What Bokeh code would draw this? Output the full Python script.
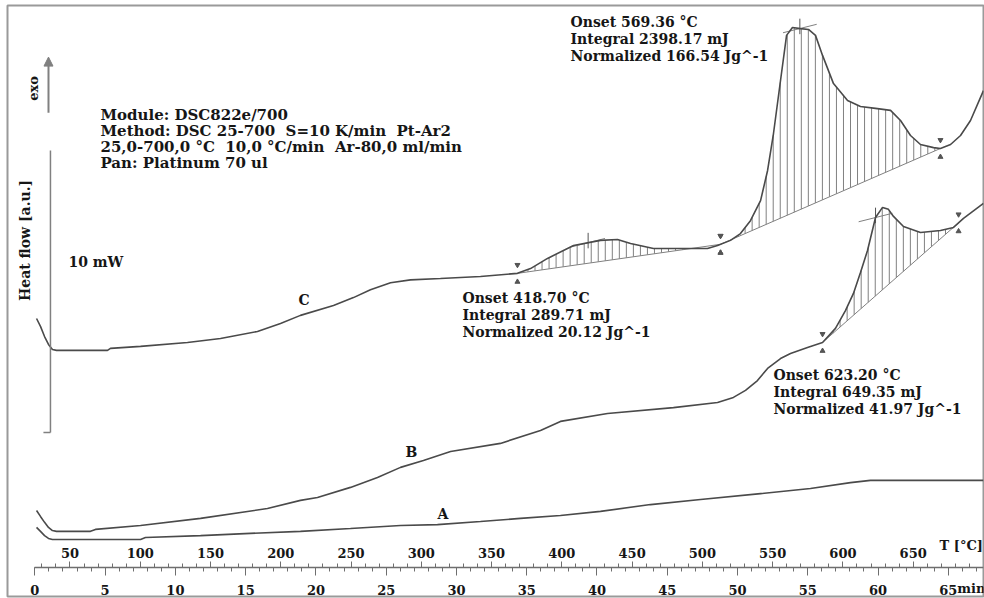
import numpy as np
from bokeh.plotting import figure
from bokeh.models import Range1d, LinearAxis, FixedTicker, Label, Arrow, NormalHead
from bokeh.embed import file_html
from bokeh.resources import INLINE

# ---- DSC runs: temperature (°C) vs heat flow (mW), heating at 10 K/min from 25 °C ----
temp_a = [26.2, 29.0, 31.9, 34.7, 37.5, 100.2, 103.7, 142.9, 178.4, 214.0, 249.6, 285.2,
          311.5, 342.1, 370.6, 399.0, 427.5, 463.1, 498.7, 541.4, 576.9, 605.4, 619.6, 700.0]
flow_a = [1.42, 1.28, 1.13, 1.03, 0.99, 0.99, 1.06, 1.13, 1.21, 1.28, 1.38, 1.49,
          1.52, 1.63, 1.74, 1.84, 1.99, 2.23, 2.41, 2.62, 2.80, 3.01, 3.09, 3.09]

temp_b = [26.2, 29.0, 31.9, 34.7, 37.5, 40.4, 64.6, 68.1, 100.2, 142.9, 190.5, 214.0,
          226.1, 249.6, 268.8, 285.2, 301.5, 320.8, 356.3, 384.8, 399.0, 432.5, 479.4, 510.8,
          522.1, 530.7, 539.2, 546.4, 555.6, 562.7, 574.8, 585.5, 594.7, 601.8, 607.5, 612.5,
          617.5, 623.2, 628.2, 632.4, 636.0, 643.1, 655.2, 669.4, 678.7, 685.8, 700.0]
flow_b = [2.02, 1.81, 1.60, 1.42, 1.31, 1.28, 1.28, 1.35, 1.49, 1.74, 2.09, 2.38,
          2.48, 2.84, 3.19, 3.55, 3.79, 4.11, 4.40, 4.86, 5.18, 5.46, 5.67, 5.85,
          6.03, 6.28, 6.63, 7.06, 7.41, 7.59, 7.80, 7.98, 8.48, 9.11, 9.72, 10.46,
          11.24, 12.41, 12.77, 12.70, 12.45, 12.09, 11.88, 11.95, 12.06, 12.38, 12.91]

temp_c = [26.2, 29.0, 31.9, 34.7, 37.5, 40.4, 76.7, 78.8, 100.2, 133.6, 157.1, 183.4,
          199.8, 214.0, 237.5, 251.7, 263.8, 278.1, 292.3, 313.6, 342.1, 368.4, 377.7, 389.8,
          408.3, 427.5, 439.6, 448.9, 465.2, 491.5, 503.6, 510.8, 520.0, 527.1, 534.2, 541.4,
          546.4, 550.6, 555.6, 559.9, 564.1, 569.8, 575.5, 580.5, 585.5, 593.3, 603.3, 612.5,
          623.2, 633.9, 641.0, 648.1, 655.2, 664.5, 669.4, 676.6, 683.7, 690.8, 700.0]
flow_c = [8.83, 8.55, 8.19, 7.91, 7.73, 7.70, 7.70, 7.77, 7.84, 7.98, 8.12, 8.37,
          8.65, 8.94, 9.29, 9.57, 9.85, 10.10, 10.20, 10.25, 10.32, 10.43, 10.60, 10.96,
          11.42, 11.60, 11.63, 11.49, 11.31, 11.31, 11.31, 11.42, 11.60, 11.84, 12.30, 13.01,
          14.08, 15.39, 17.27, 18.87, 19.15, 19.11, 19.08, 18.87, 18.16, 17.16, 16.56, 16.35,
          16.28, 16.21, 15.85, 15.32, 15.00, 14.89, 14.86, 15.00, 15.32, 15.85, 16.91]

# ---- integrated peaks: curve, integration limits (°C), onset, integral, normalized ----
peak_curve = ["C", "C", "B"]
peak_start = [368.4, 512.9, 585.5]
peak_end = [512.9, 669.4, 682.3]
peak_onset = [418.70, 569.36, 623.20]
peak_integral = [289.71, 2398.17, 649.35]
peak_normalized = [20.12, 166.54, 41.97]

# ---- scales ----
temp_major = list(range(50, 700, 50))
temp_minor = list(range(30, 700, 10))
time_major = list(range(0, 70, 5))
time_minor = list(range(0, 68))
start_temp = 25.0      # °C
heating_rate = 10.0    # K/min
scale_mw = 10.0        # length of the heat-flow scale bar

NB = "\u00a0"
method_lines = ["Module: DSC822e/700",
                f"Method: DSC 25-700{NB}{NB}S=10 K/min{NB}{NB}Pt-Ar2",
                f"25,0-700,0 °C{NB}{NB}10,0 °C/min{NB}{NB}Ar-80,0 ml/min",
                "Pan: Platinum 70 ul"]

FONT = "DejaVu Serif"
INK = "#161616"
CURVE = "#4a4a4a"
GREY = "#808080"

x_lo, x_hi = 5.53, 700.04
p = figure(width=984, height=598,
           x_range=Range1d(x_lo, x_hi), y_range=Range1d(-1.03, 19.93),
           x_axis_type=None, y_axis_type=None,
           output_backend="svg", toolbar_location=None,
           min_border_left=7, min_border_top=5, min_border_right=1, min_border_bottom=2)
p.grid.visible = False
p.outline_line_color = "#9a9a9a"
p.outline_line_width = 2
p.background_fill_color = "white"
p.border_fill_color = "white"

# temperature scale above the shared axis line, time scale below it
p.extra_x_ranges = {"time": Range1d((x_lo - start_temp) / heating_rate,
                                    (x_hi - start_temp) / heating_rate)}

t_axis = LinearAxis(fixed_location=0, bounds=(start_temp, 700),
                    ticker=FixedTicker(ticks=temp_major, minor_ticks=temp_minor))
m_axis = LinearAxis(fixed_location=0, x_range_name="time", bounds=(0, 67.5),
                    ticker=FixedTicker(ticks=time_major, minor_ticks=time_minor))
for ax in (t_axis, m_axis):
    ax.major_label_text_font = FONT
    ax.major_label_text_font_style = "bold"
    ax.major_label_text_font_size = "13px"
    ax.major_label_text_color = INK
    ax.major_tick_line_color = "#6e6e6e"
    ax.minor_tick_line_color = "#6e6e6e"
    ax.major_tick_in = 0
    ax.minor_tick_in = 0
t_axis.axis_line_color = "#6e6e6e"
t_axis.axis_line_width = 1.5
t_axis.major_tick_out = 6
t_axis.minor_tick_out = 4
t_axis.major_label_standoff = 3
m_axis.axis_line_color = None
m_axis.major_tick_out = 8
m_axis.minor_tick_out = 4
m_axis.major_label_standoff = 10
p.add_layout(t_axis, "above")
p.add_layout(m_axis, "below")

curves = {"A": (temp_a, flow_a), "B": (temp_b, flow_b), "C": (temp_c, flow_c)}

# hatched peak areas between the straight baseline and the curve
for name, t0, t1, onset in zip(peak_curve, peak_start, peak_end, peak_onset):
    tc, fc = curves[name]
    y0, y1 = np.interp([t0, t1], tc, fc)
    p.line([t0, t1], [y0, y1], line_color=GREY, line_width=1)
    xs = np.arange(t0 + 2.5, t1, 5.0)
    base = y0 + (y1 - y0) * (xs - t0) / (t1 - t0)
    top = np.interp(xs, tc, fc)
    keep = top > base
    p.segment(x0=xs[keep], y0=base[keep], x1=xs[keep], y1=top[keep],
              line_color=GREY, line_width=1)
    # limit markers
    p.scatter([t0, t1], [y0 + 0.3, y1 + 0.3], marker="inverted_triangle", size=5,
              fill_color="#555", line_color="#555")
    p.scatter([t0, t1], [y0 - 0.3, y1 - 0.3], marker="triangle", size=5,
              fill_color="#555", line_color="#555")
    # onset tangent cross
    yo = float(np.interp(onset, tc, fc))
    p.line([onset - 12, onset + 12], [yo - 0.15, yo + 0.15], line_color=GREY, line_width=1)
    p.line([onset, onset], [yo - 0.2, yo + 0.35], line_color="#555", line_width=1)

for name, (tc, fc) in curves.items():
    p.line(tc, fc, line_color=CURVE, line_width=1.6)

# heat-flow scale bar and exo direction
scale_t, scale_bottom = 36.1, 4.79
p.line([scale_t, scale_t], [scale_bottom, scale_bottom + scale_mw], line_color=GREY, line_width=1.5)
p.line([scale_t - 5, scale_t], [scale_bottom, scale_bottom], line_color=GREY, line_width=1.5)
p.add_layout(Arrow(end=NormalHead(size=9, fill_color=GREY, line_color=GREY),
                   x_start=34.7, y_start=16.13, x_end=34.7, y_end=18.1,
                   line_color=GREY, line_width=2))


def put(text, x, y, size="14px", angle=0.0, align="left", baseline="middle",
        x_range_name="default", x_offset=0):
    p.add_layout(Label(x=x, y=y, text=text, text_font=FONT, text_font_style="bold",
                       text_font_size=size, text_color=INK, angle=angle,
                       text_align=align, text_baseline=baseline,
                       x_range_name=x_range_name, x_offset=x_offset))


line_step = 16 / 28.2
for i, line in enumerate(method_lines):
    put(line, 71.7, 16.03 - i * line_step, size="15px")

put("10 mW", 48.9, 10.85)
put("Heat flow [a.u.]", 18.3, 11.6, angle=np.pi / 2, align="center")
put("exo", 24.0, 16.99, size="13px", angle=np.pi / 2, align="center")
put("C", 212.6, 9.47)
put("B", 288.7, 4.08)
put("A", 311.5, 1.91)
put("T [°C]", 699.6, 0.78, size="13px", align="right")
put("min", 65, -0.76, size="13px", x_range_name="time", x_offset=9)

block_pos = [(329.3, 9.54), (406.2, 19.36), (550.6, 6.81)]
for (bx, by), onset, integ, norm in zip(block_pos, peak_onset, peak_integral, peak_normalized):
    rows = [f"Onset {onset:.2f} °C", f"Integral {integ:.2f} mJ", f"Normalized {norm:.2f} Jg^-1"]
    for i, row in enumerate(rows):
        put(row, bx, by - i * 17 / 28.2)

open("out.html", "w").write(file_html(p, INLINE))
